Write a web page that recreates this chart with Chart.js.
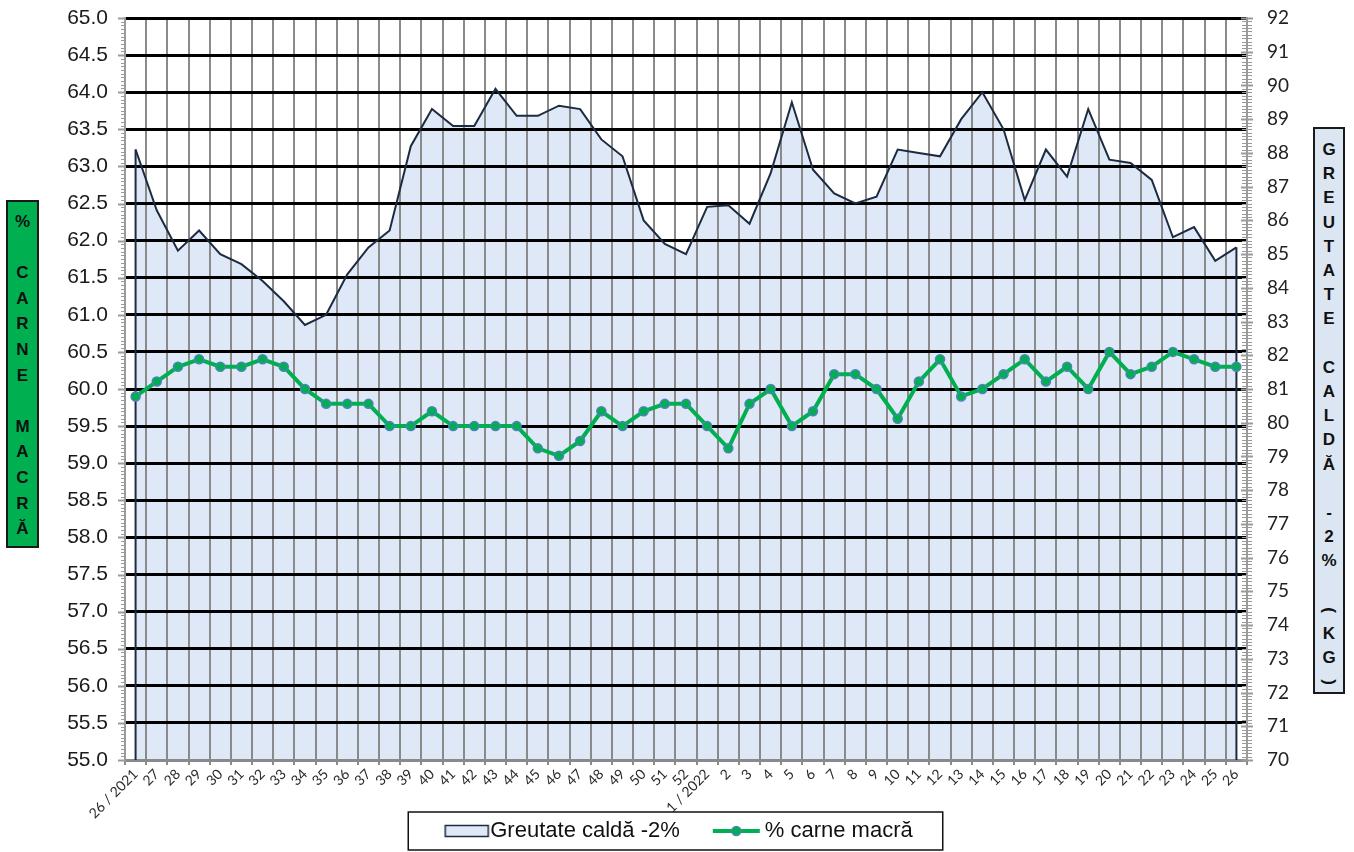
<!DOCTYPE html>
<html>
<head>
<meta charset="utf-8">
<script src="https://cdn.jsdelivr.net/npm/chart.js@4.4.0/dist/chart.umd.min.js"></script>
<style>
  html, body { margin: 0; padding: 0; background: #fff; }
  #wrap { position: relative; width: 1354px; height: 852px; }
  #chart { position: absolute; left: 0; top: 0; }
  .vtitle {
    position: absolute; box-sizing: border-box; border: 2px solid #1a1a1a;
    font: bold 17px "Liberation Sans", Arial, sans-serif; color: #111; text-align: center;
  }
  .rot { display: inline-block; transform: rotate(90deg); }
</style>
</head>
<body>
<div id="wrap">
  <canvas id="chart" width="1354" height="852"></canvas>
  <div class="vtitle" style="left:6px;top:200px;width:33px;height:348px;background:#00b050;padding-top:7px;line-height:25.6px;">%<br><br>C<br>A<br>R<br>N<br>E<br><br>M<br>A<br>C<br>R<br>Ă</div>
  <div class="vtitle" style="left:1313px;top:127px;width:32px;height:567px;background:#dce6f2;padding-top:9px;line-height:24.2px;">G<br>R<br>E<br>U<br>T<br>A<br>T<br>E<br><br>C<br>A<br>L<br>D<br>Ă<br><br>-<br>2<br>%<br><br><span class="rot">(</span><br>K<br>G<br><span class="rot">)</span></div>
</div>
<script>
// week labels (26/2021 ... 26/2022)
const weeks = ['26 / 2021', '27', '28', '29', '30', '31', '32', '33', '34', '35', '36', '37', '38', '39',
  '40', '41', '42', '43', '44', '45', '46', '47', '48', '49', '50', '51', '52',
  '1 / 2022', '2', '3', '4', '5', '6', '7', '8', '9', '10', '11', '12', '13', '14', '15', '16',
  '17', '18', '19', '20', '21', '22', '23', '24', '25', '26'];

// Greutate caldă -2% (kg), right axis
const weight = [88.1, 86.3, 85.1, 85.7, 85.0, 84.7, 84.2, 83.6, 82.9, 83.2,
  84.4, 85.2, 85.7, 88.2, 89.3, 88.8, 88.8, 89.9, 89.1, 89.1,
  89.4, 89.3, 88.4, 87.9, 86.0, 85.3, 85.0, 86.4, 86.45, 85.9,
  87.4, 89.5, 87.5, 86.8, 86.5, 86.7, 88.1, 88.0, 87.9, 89.0,
  89.8, 88.7, 86.6, 88.1, 87.3, 89.3, 87.8, 87.7, 87.2, 85.5,
  85.8, 84.8, 85.2];

// % carne macră, left axis
const lean = [59.9, 60.1, 60.3, 60.4, 60.3, 60.3, 60.4, 60.3, 60.0, 59.8,
  59.8, 59.8, 59.5, 59.5, 59.7, 59.5, 59.5, 59.5, 59.5, 59.2,
  59.1, 59.3, 59.7, 59.5, 59.7, 59.8, 59.8, 59.5, 59.2, 59.8,
  60.0, 59.5, 59.7, 60.2, 60.2, 60.0, 59.6, 60.1, 60.4, 59.9,
  60.0, 60.2, 60.4, 60.1, 60.3, 60.0, 60.5, 60.2, 60.3, 60.5,
  60.4, 60.3, 60.3];

const leanMin = 55, leanMax = 65;
const kgMin = 70, kgMax = 92;

const fillColor = '#dfe8f6';
const weightColor = '#1c2b41';
const leanColor = '#00b050';

Chart.defaults.font.family = '"Liberation Sans", Arial, sans-serif';

// legend swatches (canvas point styles, content pushed right so the text sits close)
function swatchArea() {
  const c = document.createElement('canvas');
  c.width = 100; c.height = 14;
  const g = c.getContext('2d');
  g.fillStyle = fillColor;
  g.fillRect(53, 1.5, 43, 11);
  g.strokeStyle = weightColor;
  g.lineWidth = 1.5;
  g.strokeRect(53, 1.5, 43, 11);
  return c;
}
function swatchLine() {
  const c = document.createElement('canvas');
  c.width = 100; c.height = 14;
  const g = c.getContext('2d');
  g.strokeStyle = leanColor;
  g.lineWidth = 4;
  g.beginPath(); g.moveTo(46, 7); g.lineTo(93, 7); g.stroke();
  g.fillStyle = leanColor;
  g.strokeStyle = '#4f81bd';
  g.lineWidth = 1.5;
  g.beginPath(); g.arc(69.5, 7, 4.5, 0, Math.PI * 2); g.fill(); g.stroke();
  return c;
}

// major + minor ticks on both value axes
const axisTicks = {
  id: 'axisTicks',
  afterDraw(chart) {
    const { ctx } = chart;
    const yl = chart.scales.y, yr = chart.scales.y1;
    ctx.save();
    ctx.strokeStyle = '#9a9a9a';
    for (let k = 0; k <= 200; k++) {
      const major = k % 10 === 0;
      const y = Math.round(yl.getPixelForValue(leanMin + k * 0.05)) + 0.5;
      ctx.lineWidth = major ? 2 : 1;
      ctx.beginPath(); ctx.moveTo(yl.right - (major ? 7 : 4), y); ctx.lineTo(yl.right, y); ctx.stroke();
    }
    for (let k = 0; k <= 220; k++) {
      const y = Math.round(yr.getPixelForValue(kgMin + k * 0.1)) + 0.5;
      const major = k % 10 === 0;
      ctx.lineWidth = major ? 2 : 1;
      ctx.beginPath();
      ctx.moveTo(yr.left - (major ? 6 : 5), y);
      ctx.lineTo(yr.left + (major ? 6 : 5), y);
      ctx.stroke();
    }
    ctx.restore();
  },
};

// vertical sides of the area; legend shifted a bit left and framed
const areaEdges = {
  id: 'areaEdges',
  afterInit(chart) {
    const lg = chart.legend;
    const orig = lg.draw;
    lg.draw = function (area) {
      const { ctx } = chart;
      ctx.save();
      ctx.translate(-18, 0);
      orig.call(this, area);
      const hb = this.legendHitBoxes;
      if (hb && hb.length) {
        const last = hb[hb.length - 1];
        const left = hb[0].left + 3;
        const right = last.left + last.width + 30;
        ctx.strokeStyle = '#111';
        ctx.lineWidth = 1.5;
        ctx.strokeRect(left, 812, right - left, 38);
      }
      ctx.restore();
    };
  },
  afterDatasetDraw(chart, args) {
    if (args.index !== 0) return;
    const pts = args.meta.data;
    const { ctx } = chart;
    const bottom = chart.chartArea.bottom;
    ctx.save();
    ctx.strokeStyle = weightColor;
    ctx.lineWidth = 2;
    [pts[0], pts[pts.length - 1]].forEach((p) => {
      ctx.beginPath(); ctx.moveTo(p.x, p.y); ctx.lineTo(p.x, bottom); ctx.stroke();
    });
    ctx.restore();
  },
};

new Chart(document.getElementById('chart'), {
  type: 'line',
  data: {
    labels: weeks,
    datasets: [
      {
        label: 'Greutate caldă -2%',
        data: weight,
        yAxisID: 'y1',
        order: 1,
        borderColor: weightColor,
        borderWidth: 2,
        backgroundColor: fillColor,
        fill: 'start',
        pointRadius: 0,
        tension: 0,
      },
      {
        label: '% carne macră',
        data: lean,
        yAxisID: 'y',
        order: 0,
        borderColor: leanColor,
        borderWidth: 4,
        pointRadius: 4.5,
        pointBackgroundColor: leanColor,
        pointBorderColor: '#4f81bd',
        pointBorderWidth: 1.5,
        fill: false,
        tension: 0,
      },
    ],
  },
  options: {
    responsive: false,
    animation: false,
    layout: { padding: { top: 18, left: 0, right: 0, bottom: 0 } },
    plugins: {
      filler: { drawTime: 'beforeDraw' },
      tooltip: { enabled: false },
      legend: {
        position: 'bottom',
        labels: {
          usePointStyle: true,
          pointStyleWidth: 74,
          padding: 0,
          color: '#111',
          font: { size: 22 },
          generateLabels: () => [
            { text: 'Greutate caldă -2%', pointStyle: swatchArea(), datasetIndex: 0, fontColor: '#111', hidden: false, lineWidth: 0 },
            { text: '% carne macră', pointStyle: swatchLine(), datasetIndex: 1, fontColor: '#111', hidden: false, lineWidth: 0 },
          ],
        },
      },
    },
    scales: {
      x: {
        offset: true,
        afterFit: (s) => { s.height = 60; },
        grid: { offset: true, color: '#8a8a8a', lineWidth: 2, tickLength: 5, tickColor: '#8a8a8a' },
        border: { color: '#8a8a8a', width: 2 },
        ticks: {
          autoSkip: false, minRotation: 45, maxRotation: 45, padding: 1,
          color: '#2a2a2a', font: { family: 'Lato, "Liberation Sans", sans-serif', size: 14 },
        },
      },
      y: {
        position: 'left',
        min: leanMin,
        max: leanMax,
        afterFit: (s) => { s.width = 125; },
        grid: {
          color: (c) => (c.tick && c.tick.value === leanMin ? '#8a8a8a' : '#000'),
          lineWidth: 3,
          tickLength: 14,
          tickColor: 'rgba(0,0,0,0)',
        },
        border: { color: '#9a9a9a', width: 2 },
        ticks: {
          stepSize: 0.5,
          padding: 3,
          color: '#1a1a1a',
          font: { size: 21 },
          callback: (v) => Number(v).toFixed(1),
        },
      },
      y1: {
        position: 'right',
        min: kgMin,
        max: kgMax,
        afterFit: (s) => { s.width = 107; },
        grid: { drawOnChartArea: false, drawTicks: true, tickLength: 18, tickColor: 'rgba(0,0,0,0)' },
        border: { color: '#9a9a9a', width: 2 },
        ticks: {
          stepSize: 1,
          padding: 2,
          color: '#222',
          font: { family: 'Lato, "Liberation Sans", sans-serif', size: 19 },
        },
      },
    },
  },
  plugins: [axisTicks, areaEdges],
});
</script>
</body>
</html>
